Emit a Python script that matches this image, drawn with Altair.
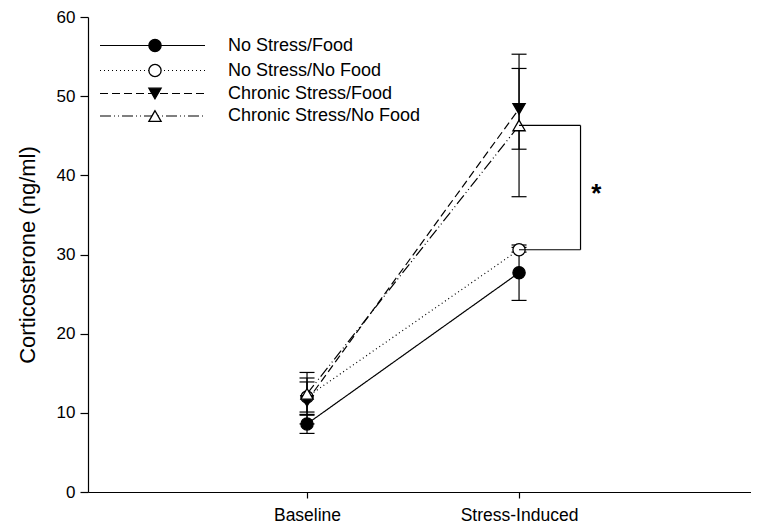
import altair as alt
import pandas as pd

conditions = ["Baseline", "Stress-Induced"]
series = ["No Stress/Food", "No Stress/No Food", "Chronic Stress/Food", "Chronic Stress/No Food"]
means_baseline = [8.6, 12.0, 11.5, 12.4]
means_stress = [27.7, 30.6, 48.4, 46.3]
sem_baseline = [1.2, 1.9, 2.9, 2.7]
sem_stress = [3.5, 0.3, 5.1, 9.0]

# significance bracket between the two "No Food" stress-induced means
bracket_pair = ["No Stress/No Food", "Chronic Stress/No Food"]
bracket_x = 2.29
star_pos = (2.365, 37.6)

shapes = ["circle", "circle", "triangle-down", "triangle-up"]
fills = ["black", "white", "black", "white"]
dashes = [[1, 0], [1, 3], [8, 4], [11, 3, 1, 3, 1, 3]]

FONT = "Liberation Sans"

rows = []
for i, s in enumerate(series):
    for j, (m, e) in enumerate([(means_baseline[i], sem_baseline[i]), (means_stress[i], sem_stress[i])]):
        rows.append({"series": s, "order": i, "pos": j + 1, "cond": conditions[j],
                     "mean": m, "lo": m - e, "hi": m + e})
df = pd.DataFrame(rows)

xscale = alt.Scale(domain=[-0.033, 3.094], nice=False, zero=False)
yscale = alt.Scale(domain=[0, 60], nice=False)

xaxis = alt.Axis(values=[1, 2], labelExpr=f"{conditions}[datum.value - 1]", title=None,
                 grid=False, domainColor="black", tickColor="black", tickSize=6,
                 labelFont=FONT, labelFontSize=17.5, labelColor="black", labelPadding=8)
yaxis = alt.Axis(values=[0, 10, 20, 30, 40, 50, 60], title="Corticosterone (ng/ml)",
                 grid=False, domainColor="black", tickColor="black", tickSize=8,
                 labelFont=FONT, labelFontSize=17, labelColor="black", labelPadding=5,
                 titleFont=FONT, titleFontSize=22, titleFontWeight="normal",
                 titleColor="black", titlePadding=17)

base = alt.Chart(df)

err = base.mark_rule(color="black", strokeWidth=1.2).encode(
    x=alt.X("pos:Q", scale=xscale, axis=xaxis),
    y=alt.Y("lo:Q", scale=yscale, axis=yaxis),
    y2="hi:Q",
)
cap_lo = base.mark_rule(color="black", strokeWidth=1.2, xOffset=-7.5, x2Offset=7.5).encode(
    x="pos:Q", x2="pos:Q", y="lo:Q")
cap_hi = base.mark_rule(color="black", strokeWidth=1.2, xOffset=-7.5, x2Offset=7.5).encode(
    x="pos:Q", x2="pos:Q", y="hi:Q")

dash_scale = alt.Scale(domain=series, range=dashes)
shape_scale = alt.Scale(domain=series, range=shapes)
fill_scale = alt.Scale(domain=series, range=fills)

lines = base.mark_line(color="black", strokeWidth=1.2).encode(
    x="pos:Q", y="mean:Q",
    detail="series:N",
    strokeDash=alt.StrokeDash("series:N", scale=dash_scale, legend=None),
)
points = base.mark_point(stroke="black", strokeWidth=1.3, opacity=1, fillOpacity=1, size=150).encode(
    x="pos:Q", y="mean:Q",
    shape=alt.Shape("series:N", scale=shape_scale, legend=None),
    fill=alt.Fill("series:N", scale=fill_scale, legend=None),
    order="order:Q",
)

# bracket
b_df = df[(df["pos"] == 2) & (df["series"].isin(bracket_pair))].copy()
b_df["bx"] = bracket_x
bracket_h = alt.Chart(b_df).mark_rule(color="black", strokeWidth=1.2).encode(
    x="pos:Q", x2="bx:Q", y="mean:Q")
bv_df = pd.DataFrame({"bx": [bracket_x], "y1": [b_df["mean"].min()], "y2": [b_df["mean"].max()]})
bracket_v = alt.Chart(bv_df).mark_rule(color="black", strokeWidth=1.2).encode(
    x="bx:Q", y="y1:Q", y2="y2:Q")
star = alt.Chart(pd.DataFrame({"x": [star_pos[0]], "y": [star_pos[1]], "t": ["*"]})).mark_text(
    font=FONT, fontSize=26, fontWeight="bold", color="black", baseline="middle", align="center"
).encode(x="x:Q", y="y:Q", text="t:N")

# legend (drawn manually)
legend_layers = []
leg_y = [28.5, 53.5, 76.5, 99]
for i, s in enumerate(series):
    one = alt.Chart(pd.DataFrame({"series": [s]}))
    legend_layers.append(one.mark_rule(color="black", strokeWidth=1.2, strokeDash=dashes[i]).encode(
        x=alt.value(12), x2=alt.value(117), y=alt.value(leg_y[i])))
    legend_layers.append(one.mark_point(stroke="black", strokeWidth=1.3, opacity=1, fillOpacity=1,
                                        size=150, shape=shapes[i], fill=fills[i]).encode(
        x=alt.value(67), y=alt.value(leg_y[i])))
    legend_layers.append(one.mark_text(font=FONT, fontSize=18, color="black", align="left",
                                       baseline="middle").encode(
        x=alt.value(140), y=alt.value(leg_y[i]), text="series:N"))

chart = alt.layer(err, cap_lo, cap_hi, lines, points, bracket_h, bracket_v, star, *legend_layers).properties(
    width=663, height=475,
    autosize=alt.AutoSizeParams(type="none"),
    padding={"left": 80, "top": 9, "right": 0, "bottom": 36},
).configure_view(stroke=None).configure_axis(domainWidth=1.2, tickWidth=1.2)

chart.save("out.html", embed_options={"renderer": "svg", "actions": False})
